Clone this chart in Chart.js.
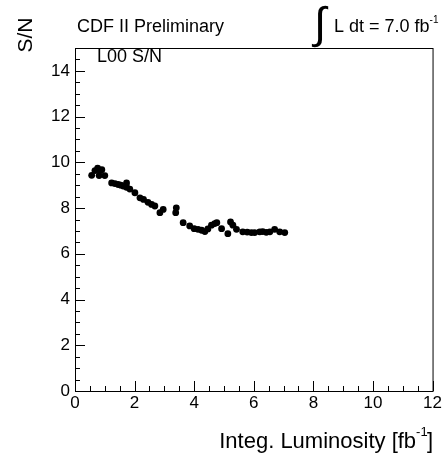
<!DOCTYPE html>
<html>
<head>
<meta charset="utf-8">
<script src="https://cdn.jsdelivr.net/npm/chart.js@4"></script>
<style>
  html, body { margin: 0; padding: 0; background: #fff; }
  #wrap { width: 444px; height: 457px; }
</style>
</head>
<body>
<div id="wrap"><canvas id="c" width="444" height="457"></canvas></div>
<script>
// integrated luminosity [fb^-1]
const lumi = [0.56, 0.67, 0.76, 0.81, 0.84, 0.9, 1.0, 1.23, 1.34, 1.45, 1.54, 1.62, 1.73, 1.73, 1.84,
  2.01, 2.18, 2.3, 2.45, 2.57, 2.68, 2.85, 2.96, 3.38, 3.4, 3.63, 3.85, 4.0, 4.13, 4.25, 4.36, 4.46,
  4.58, 4.69, 4.76, 4.92, 5.13, 5.22, 5.3, 5.42, 5.63, 5.78, 5.92, 6.03, 6.2, 6.3, 6.42, 6.54, 6.7,
  6.87, 7.04];
// L00 signal / noise
const snr = [9.43, 9.64, 9.75, 9.42, 9.64, 9.68, 9.42, 9.1, 9.07, 9.03, 9.0, 8.96, 9.1, 8.91, 8.83,
  8.67, 8.45, 8.38, 8.25, 8.16, 8.09, 7.8, 7.94, 7.8, 8.01, 7.36, 7.22, 7.1, 7.07, 7.03, 6.97, 7.09,
  7.25, 7.32, 7.36, 7.1, 6.88, 7.39, 7.25, 7.07, 6.96, 6.95, 6.93, 6.93, 6.96, 6.97, 6.94, 6.96, 7.07,
  6.96, 6.93];

const xRange = [0, 12];
const yRange = [0, 15];
const labelStep = 2;
const minorStep = 0.5;

const FONT = '"Liberation Sans", Arial, sans-serif';

const points = lumi.map((x, i) => ({ x: x, y: snr[i] }));

// ROOT style: ticks drawn inside the frame, plus the closed box
const frame = {
  id: 'frame',
  afterDraw(chart) {
    const ctx = chart.ctx;
    const a = chart.chartArea;
    const xs = chart.scales.x, ys = chart.scales.y;
    ctx.save();
    ctx.strokeStyle = '#000';
    ctx.lineWidth = 1;
    ctx.strokeRect(a.left + 0.5, a.top + 0.5, a.right - a.left, a.bottom - a.top);
    ctx.beginPath();
    xs.ticks.forEach(t => {
      const px = Math.round(xs.getPixelForValue(t.value)) + 0.5;
      const len = t.value % labelStep === 0 ? 10 : 5;
      ctx.moveTo(px, a.bottom);
      ctx.lineTo(px, a.bottom - len);
    });
    ys.ticks.forEach(t => {
      const py = Math.round(ys.getPixelForValue(t.value)) + 0.5;
      const len = t.value % labelStep === 0 ? 10 : 5;
      ctx.moveTo(a.left, py);
      ctx.lineTo(a.left + len, py);
    });
    ctx.stroke();

    ctx.fillStyle = '#000';
    ctx.textBaseline = 'alphabetic';
    // header
    ctx.font = '18px ' + FONT;
    ctx.textAlign = 'left';
    ctx.fillText('CDF II Preliminary', 77, 32);
    ctx.fillText('L00 S/N', 97, 62);

    // integrated luminosity label
    ctx.font = '44px ' + FONT;
    ctx.fillText('\u222B', 314, 38);
    ctx.font = '18px ' + FONT;
    ctx.fillText('L dt = 7.0 fb', 334, 32);
    let w = ctx.measureText('L dt = 7.0 fb').width;
    ctx.font = '10px ' + FONT;
    ctx.fillText('-1', 334 + w, 23);

    // x title, right aligned
    ctx.font = '11px ' + FONT;
    const sw = ctx.measureText('-1').width;
    ctx.font = '22px ' + FONT;
    const main = 'Integ. Luminosity [fb';
    const cw = ctx.measureText(']').width;
    const mw = ctx.measureText(main).width;
    const right = 433;
    const x0 = right - cw - sw - 1 - mw;
    ctx.fillText(main, x0, 448);
    ctx.fillText(']', right - cw, 448);
    ctx.font = '13px ' + FONT;
    ctx.fillText('-1', x0 + mw, 436);

    // y title
    ctx.translate(32, 35);
    ctx.rotate(-Math.PI / 2);
    ctx.textAlign = 'center';
    ctx.font = '21px ' + FONT;
    ctx.fillText('S/N', 0, 0);
    ctx.restore();
  }
};

new Chart(document.getElementById('c'), {
  type: 'scatter',
  data: {
    datasets: [{
      data: points,
      backgroundColor: '#000',
      borderColor: '#000',
      borderWidth: 0,
      pointRadius: 3.4,
      pointHoverRadius: 3.4
    }]
  },
  options: {
    responsive: false,
    animation: false,
    events: [],
    layout: { padding: { left: 0, top: 48, right: 11, bottom: 0 } },
    plugins: { legend: { display: false }, tooltip: { enabled: false } },
    scales: {
      x: {
        type: 'linear',
        min: xRange[0], max: xRange[1],
        grid: { display: false, drawTicks: false },
        border: { display: true, color: '#000', width: 1 },
        afterFit(s) { s.height = 66; },
        ticks: {
          stepSize: minorStep,
          autoSkip: false,
          maxRotation: 0,
          padding: 2,
          color: '#000',
          font: { family: FONT, size: 17 },
          callback: v => (v % labelStep === 0 ? String(v) : '')
        }
      },
      y: {
        type: 'linear',
        min: yRange[0], max: yRange[1],
        grid: { display: false, drawTicks: false },
        border: { display: true, color: '#000', width: 1 },
        afterFit(s) { s.width = 75; },
        ticks: {
          stepSize: minorStep,
          autoSkip: false,
          padding: 5,
          color: '#000',
          font: { family: FONT, size: 17 },
          callback: v => (v % labelStep === 0 ? String(v) : '')
        }
      }
    }
  },
  plugins: [frame]
});
</script>
</body>
</html>
